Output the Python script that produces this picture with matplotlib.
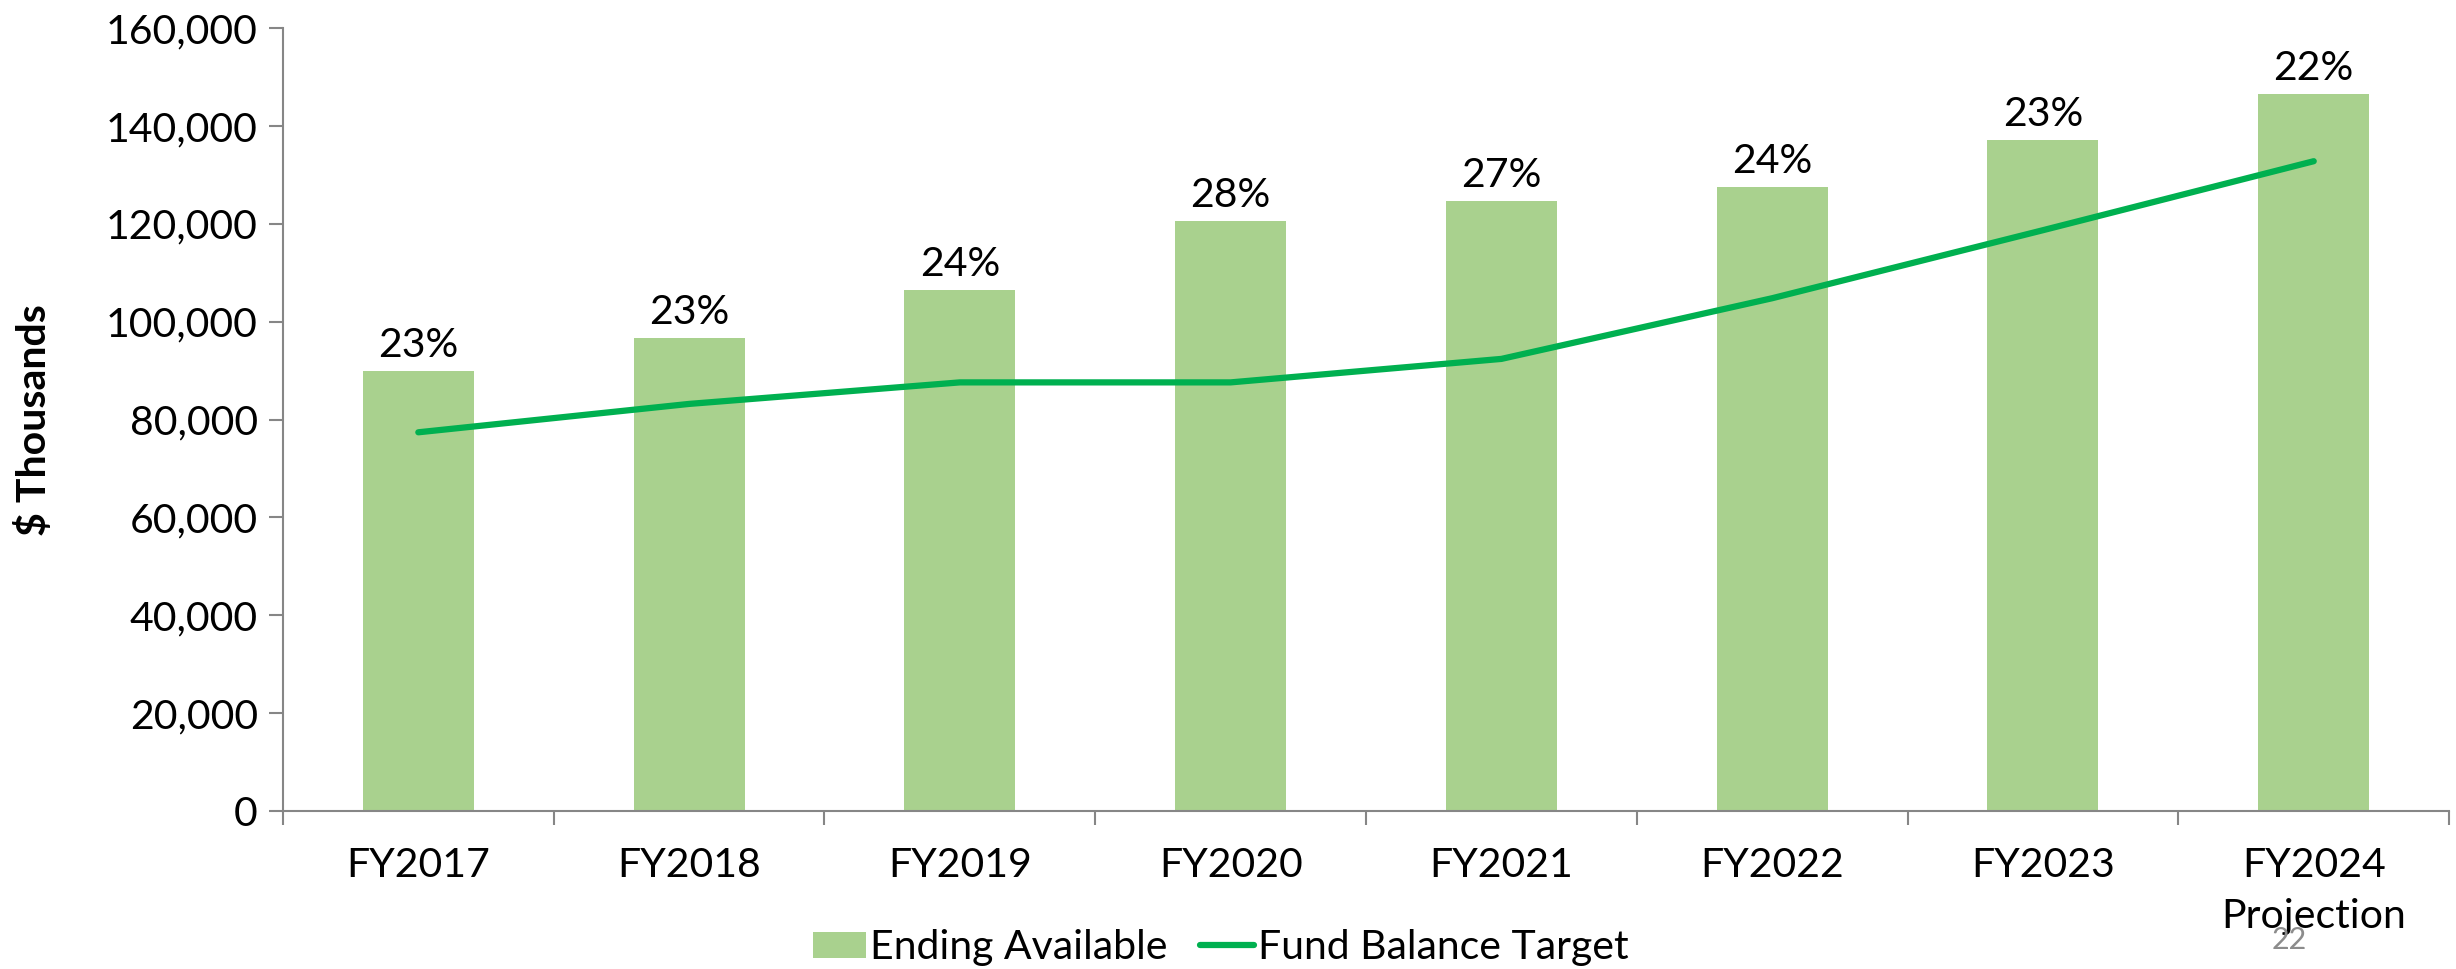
import matplotlib
matplotlib.use("Agg")
import matplotlib.pyplot as plt
import numpy as np

plt.rcParams["font.family"] = ["Lato", "DejaVu Sans"]

categories = ["FY2017", "FY2018", "FY2019", "FY2020", "FY2021", "FY2022", "FY2023", "FY2024\nProjection"]
ending_available = [89900, 96600, 106500, 120600, 124700, 127600, 137200, 146500]
fund_balance_target = [77400, 83200, 87600, 87600, 92400, 104800, 118700, 132800]
pct_labels = ["23%", "23%", "24%", "28%", "27%", "24%", "23%", "22%"]

bar_color = "#A9D18E"
line_color = "#00B050"
axis_color = "#868686"
fs = 29.5

fig = plt.figure(figsize=(24.56, 9.69), dpi=100)
ax = fig.add_axes([0.1152, 0.163, 0.882, 0.808])

x = np.arange(len(categories))
bars = ax.bar(x, ending_available, width=0.41, color=bar_color, label="Ending Available", zorder=2)
line, = ax.plot(x, fund_balance_target, color=line_color, linewidth=4.5, solid_capstyle="round",
                label="Fund Balance Target", zorder=3)

for b, lab in zip(bars, pct_labels):
    ax.annotate(lab, (b.get_x() + b.get_width() / 2, b.get_height()),
                xytext=(0, 5), textcoords="offset points",
                ha="center", va="bottom", fontsize=fs)

ax.set_xlim(-0.5, len(categories) - 0.5)
ax.set_ylim(0, 160000)
ax.set_yticks(np.arange(0, 160001, 20000))
ax.yaxis.set_major_formatter(matplotlib.ticker.FuncFormatter(lambda v, p: f"{int(v):,}"))

# category boundaries get the tick marks, labels sit in between
ax.set_xticks(np.arange(-0.5, len(categories), 1.0))
ax.set_xticklabels([])
ax.set_xticks(x, minor=True)
ax.set_xticklabels(categories, minor=True, fontsize=fs, linespacing=1.45)
ax.tick_params(axis="x", which="major", length=10, width=1.5, color=axis_color)
ax.tick_params(axis="x", which="minor", length=0, pad=26)
ax.tick_params(axis="y", length=10, width=1.5, color=axis_color, labelsize=fs, pad=8)

for s in ["top", "right"]:
    ax.spines[s].set_visible(False)
for s in ["left", "bottom"]:
    ax.spines[s].set_color(axis_color)
    ax.spines[s].set_linewidth(1.5)

ax.set_ylabel("$ Thousands", fontsize=fs, fontweight="bold")
ax.yaxis.set_label_coords(-0.106, 0.5)

fig.legend(handles=[bars, line], loc="center", bbox_to_anchor=(0.497, 0.022), ncol=2, frameon=False,
           fontsize=fs, handlelength=1.3, handleheight=0.6, handletextpad=0.1,
           columnspacing=0.8)

fig.text(0.932, 0.03, "22", fontsize=22, color="#8c8c8c", ha="center", va="center")

fig.savefig("out.png", dpi=100)
